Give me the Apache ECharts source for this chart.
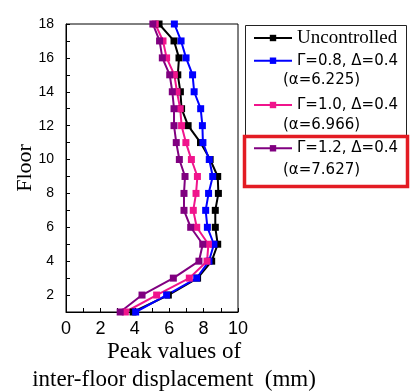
<!DOCTYPE html>
<html>
<head>
<meta charset="utf-8">
<script src="https://cdn.jsdelivr.net/npm/echarts@6/dist/echarts.min.js"></script>
<style>
  html, body { margin: 0; padding: 0; background: #fff; }
  #chart { width: 417px; height: 392px; }
</style>
</head>
<body>
<div id="chart"></div>
<script>
// floors 1..18, values (mm)
const floors = [1, 2, 3, 4, 5, 6, 7, 8, 9, 10, 11, 12, 13, 14, 15, 16, 17, 18];
const uncontrolled = [3.9, 5.95, 7.65, 8.47, 8.82, 8.68, 8.68, 8.86, 8.82, 8.38, 7.82, 7.1, 6.72, 6.65, 6.5, 6.57, 6.28, 5.41];
const gamma08 = [4.05, 5.85, 7.6, 8.31, 8.6, 8.22, 8.12, 8.29, 8.53, 8.33, 7.96, 7.93, 7.83, 7.45, 7.36, 6.98, 6.69, 6.3];
const gamma10 = [3.45, 5.27, 7.17, 8.2, 8.28, 7.6, 7.4, 7.56, 7.64, 7.29, 6.97, 6.72, 6.64, 6.45, 6.3, 5.85, 5.64, 5.19];
const gamma12 = [3.15, 4.42, 6.24, 7.73, 7.95, 7.25, 6.86, 6.86, 6.92, 6.59, 6.41, 6.28, 6.28, 6.18, 6.03, 5.6, 5.44, 5.05];

const seriesNames = ['Uncontrolled', 'Γ=0.8, Δ=0.4', 'Γ=1.0, Δ=0.4', 'Γ=1.2, Δ=0.4'];
const alphaLabels = ['(α=6.225)', '(α=6.966)', '(α=7.627)'];
const colors = ['#000000', '#0000ff', '#f0148c', '#800080'];
const xTicks = [0, 2, 4, 6, 8, 10];
const yTicks = [2, 4, 6, 8, 10, 12, 14, 16, 18];

const chart = echarts.init(document.getElementById('chart'));

function pairs(values) {
  return values.map((v, i) => [v, floors[i]]);
}

const allValues = [uncontrolled, gamma08, gamma10, gamma12];

const series = allValues.map((vals, i) => ({
  name: seriesNames[i],
  type: 'line',
  data: pairs(vals),
  symbol: 'rect',
  symbolSize: 7,
  color: colors[i],
  lineStyle: { width: 2, color: colors[i] },
  itemStyle: { color: colors[i] }
}));

// one legend box per entry so each row sits where the picture has it
const LH = 22;
const legendRowCenters = [38, 60.7, 105, 148.3];
const legends = seriesNames.map((name, i) => ({
  orient: 'vertical',
  left: 253,
  top: legendRowCenters[i] - LH / 2,
  padding: 0,
  itemWidth: 38,
  itemHeight: 8,
  data: [name],
  textStyle: i === 0
    ? { fontFamily: 'Liberation Serif', fontSize: 19, lineHeight: LH, color: '#000' }
    : { fontFamily: 'DejaVu Sans', fontSize: 15, lineHeight: LH, color: '#000' }
}));

chart.setOption({
  animation: false,
  grid: {
    left: 66, right: 179, top: 24, bottom: 80,
    containLabel: false,
    outerBoundsMode: 'none',
    show: true, borderColor: '#000', borderWidth: 1
  },
  xAxis: {
    type: 'value',
    min: 0, max: 10, interval: 1,
    name: 'Peak values of\ninter-floor displacement  (mm)',
    nameLocation: 'middle',
    nameGap: 26,
    nameMoveOverlap: false,
    nameTextStyle: {
      fontFamily: 'Liberation Serif', fontSize: 23, color: '#000',
      lineHeight: 28, padding: [0, 0, 0, 44]
    },
    axisLine: { lineStyle: { color: '#000', width: 1 } },
    axisTick: { inside: true, length: 4, lineStyle: { color: '#000' } },
    axisLabel: {
      margin: 8,
      fontFamily: 'Liberation Sans', fontSize: 18, color: '#000',
      formatter: (v) => (xTicks.includes(v) ? String(v) : '')
    },
    splitLine: { show: false }
  },
  yAxis: {
    type: 'value',
    min: 1, max: 18, interval: 1,
    name: 'Floor',
    nameLocation: 'middle',
    nameGap: 30,
    nameMoveOverlap: false,
    nameTextStyle: { fontFamily: 'Liberation Serif', fontSize: 22, color: '#000' },
    axisLine: { lineStyle: { color: '#000', width: 1 } },
    axisTick: { inside: true, length: 4, lineStyle: { color: '#000' } },
    axisLabel: {
      margin: 12,
      fontFamily: 'Liberation Sans', fontSize: 14, color: '#000',
      formatter: (v) => (yTicks.includes(v) ? String(v) : '')
    },
    splitLine: { show: false }
  },
  legend: legends,
  graphic: [
    {
      type: 'rect', left: 243, top: 23, z: 0,
      shape: { width: 161, height: 161 },
      style: { fill: 'none', stroke: '#222', lineWidth: 1 }
    },
    {
      type: 'rect', left: 242, top: 134, z: 10,
      shape: { width: 163, height: 50 },
      style: { fill: 'none', stroke: '#e31b23', lineWidth: 3.5 }
    },
    ...alphaLabels.map((t, i) => ({
      type: 'text', left: 283, top: 81.7 + i * 45 - 9, z: 5,
      style: { text: t, fontFamily: 'DejaVu Sans', fontSize: 15, fill: '#000' }
    }))
  ],
  series: series
});
</script>
</body>
</html>
